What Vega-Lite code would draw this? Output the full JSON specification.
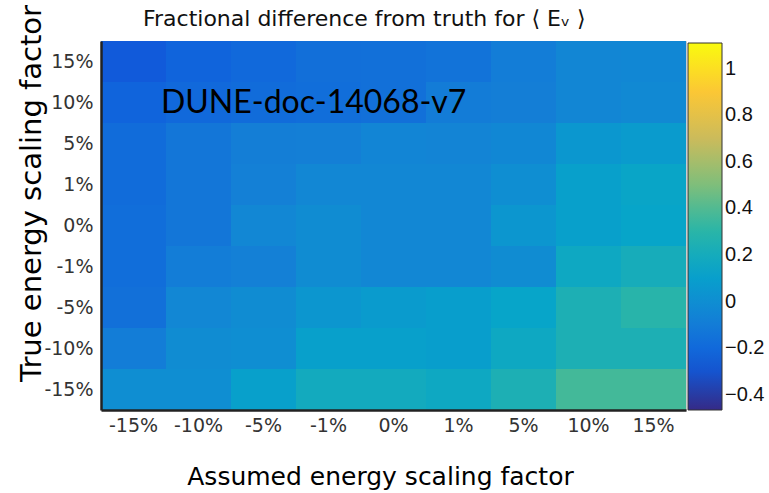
{
  "$schema": "https://vega.github.io/schema/vega-lite/v6.json",
  "width": 585,
  "height": 369,
  "autosize": {"type": "none"},
  "padding": {"left": 101, "top": 41, "right": 83, "bottom": 83},
  "background": "white",
  "title": {
    "text": "Fractional difference from truth for ⟨ Eᵥ ⟩",
    "font": "DejaVu Sans",
    "fontSize": 22,
    "fontWeight": "normal",
    "color": "#111",
    "anchor": "start",
    "frame": "group",
    "dx": 42,
    "dy": 34,
    "offset": 8
  },
  "config": {
    "view": {"stroke": "#ccc", "strokeWidth": 1},
    "axis": {
      "labelFont": "DejaVu Sans",
      "titleFont": "DejaVu Sans",
      "labelColor": "#333",
      "titleColor": "#000",
      "titleFontWeight": "normal",
      "ticks": false,
      "grid": false,
      "domainColor": "#222",
      "domainWidth": 2.5
    }
  },
  "datasets": {
    "cells": [
      {"assumed": "-15%", "truth": "15%", "v": -0.276}, {"assumed": "-10%", "truth": "15%", "v": -0.226}, {"assumed": "-5%", "truth": "15%", "v": -0.199}, {"assumed": "-1%", "truth": "15%", "v": -0.165}, {"assumed": "0%", "truth": "15%", "v": -0.161}, {"assumed": "1%", "truth": "15%", "v": -0.145}, {"assumed": "5%", "truth": "15%", "v": -0.093}, {"assumed": "10%", "truth": "15%", "v": -0.045}, {"assumed": "15%", "truth": "15%", "v": -0.035},
      {"assumed": "-15%", "truth": "10%", "v": -0.226}, {"assumed": "-10%", "truth": "10%", "v": -0.199}, {"assumed": "-5%", "truth": "10%", "v": -0.183}, {"assumed": "-1%", "truth": "10%", "v": -0.175}, {"assumed": "0%", "truth": "10%", "v": -0.161}, {"assumed": "1%", "truth": "10%", "v": -0.1}, {"assumed": "5%", "truth": "10%", "v": -0.085}, {"assumed": "10%", "truth": "10%", "v": -0.045}, {"assumed": "15%", "truth": "10%", "v": -0.025},
      {"assumed": "-15%", "truth": "5%", "v": -0.183}, {"assumed": "-10%", "truth": "5%", "v": -0.13}, {"assumed": "-5%", "truth": "5%", "v": -0.085}, {"assumed": "-1%", "truth": "5%", "v": -0.08}, {"assumed": "0%", "truth": "5%", "v": -0.05}, {"assumed": "1%", "truth": "5%", "v": -0.055}, {"assumed": "5%", "truth": "5%", "v": -0.035}, {"assumed": "10%", "truth": "5%", "v": 0.05}, {"assumed": "15%", "truth": "5%", "v": 0.075},
      {"assumed": "-15%", "truth": "1%", "v": -0.183}, {"assumed": "-10%", "truth": "1%", "v": -0.13}, {"assumed": "-5%", "truth": "1%", "v": -0.078}, {"assumed": "-1%", "truth": "1%", "v": -0.04}, {"assumed": "0%", "truth": "1%", "v": -0.04}, {"assumed": "1%", "truth": "1%", "v": -0.04}, {"assumed": "5%", "truth": "1%", "v": 0.0}, {"assumed": "10%", "truth": "1%", "v": 0.104}, {"assumed": "15%", "truth": "1%", "v": 0.14},
      {"assumed": "-15%", "truth": "0%", "v": -0.17}, {"assumed": "-10%", "truth": "0%", "v": -0.13}, {"assumed": "-5%", "truth": "0%", "v": -0.038}, {"assumed": "-1%", "truth": "0%", "v": -0.01}, {"assumed": "0%", "truth": "0%", "v": -0.038}, {"assumed": "1%", "truth": "0%", "v": -0.038}, {"assumed": "5%", "truth": "0%", "v": 0.047}, {"assumed": "10%", "truth": "0%", "v": 0.104}, {"assumed": "15%", "truth": "0%", "v": 0.132},
      {"assumed": "-15%", "truth": "-1%", "v": -0.17}, {"assumed": "-10%", "truth": "-1%", "v": -0.093}, {"assumed": "-5%", "truth": "-1%", "v": -0.078}, {"assumed": "-1%", "truth": "-1%", "v": -0.01}, {"assumed": "0%", "truth": "-1%", "v": -0.038}, {"assumed": "1%", "truth": "-1%", "v": -0.038}, {"assumed": "5%", "truth": "-1%", "v": -0.01}, {"assumed": "10%", "truth": "-1%", "v": 0.167}, {"assumed": "15%", "truth": "-1%", "v": 0.209},
      {"assumed": "-15%", "truth": "-5%", "v": -0.161}, {"assumed": "-10%", "truth": "-5%", "v": -0.038}, {"assumed": "-5%", "truth": "-5%", "v": -0.01}, {"assumed": "-1%", "truth": "-5%", "v": 0.047}, {"assumed": "0%", "truth": "-5%", "v": 0.075}, {"assumed": "1%", "truth": "-5%", "v": 0.093}, {"assumed": "5%", "truth": "-5%", "v": 0.132}, {"assumed": "10%", "truth": "-5%", "v": 0.239}, {"assumed": "15%", "truth": "-5%", "v": 0.291},
      {"assumed": "-15%", "truth": "-10%", "v": -0.093}, {"assumed": "-10%", "truth": "-10%", "v": -0.01}, {"assumed": "-5%", "truth": "-10%", "v": 0.001}, {"assumed": "-1%", "truth": "-10%", "v": 0.104}, {"assumed": "0%", "truth": "-10%", "v": 0.104}, {"assumed": "1%", "truth": "-10%", "v": 0.093}, {"assumed": "5%", "truth": "-10%", "v": 0.167}, {"assumed": "10%", "truth": "-10%", "v": 0.239}, {"assumed": "15%", "truth": "-10%", "v": 0.239},
      {"assumed": "-15%", "truth": "-15%", "v": 0.001}, {"assumed": "-10%", "truth": "-15%", "v": 0.001}, {"assumed": "-5%", "truth": "-15%", "v": 0.104}, {"assumed": "-1%", "truth": "-15%", "v": 0.19}, {"assumed": "0%", "truth": "-15%", "v": 0.19}, {"assumed": "1%", "truth": "-15%", "v": 0.167}, {"assumed": "5%", "truth": "-15%", "v": 0.239}, {"assumed": "10%", "truth": "-15%", "v": 0.37}, {"assumed": "15%", "truth": "-15%", "v": 0.37}
    ],
    "note": [{"assumed": "-10%", "truth": "10%", "label": "DUNE-doc-14068-v7"}]
  },
  "layer": [
    {
      "data": {"name": "cells"},
      "mark": {"type": "rect"},
      "encoding": {
        "x": {
          "field": "assumed", "type": "ordinal",
          "sort": ["-15%", "-10%", "-5%", "-1%", "0%", "1%", "5%", "10%", "15%"],
          "scale": {"paddingInner": 0, "paddingOuter": 0},
          "axis": {
            "title": "Assumed energy scaling factor",
            "labelAngle": 0, "labelFontSize": 19, "labelPadding": 6,
            "titleFontSize": 25, "titleX": 279, "titleY": 66, "titleBaseline": "middle", "titleAnchor": null
          }
        },
        "y": {
          "field": "truth", "type": "ordinal",
          "sort": ["15%", "10%", "5%", "1%", "0%", "-1%", "-5%", "-10%", "-15%"],
          "scale": {"paddingInner": 0, "paddingOuter": 0},
          "axis": {
            "title": "True energy scaling factor",
            "labelFontSize": 19, "labelPadding": 8,
            "titleFontSize": 29, "titleX": -70, "titleY": 152, "titleAngle": -90, "titleAlign": "center", "titleBaseline": "middle"
          }
        },
        "color": {
          "field": "v", "type": "quantitative",
          "scale": {
            "domain": [-0.465, -0.268125, -0.07125, 0.125625, 0.3225, 0.519375, 0.71625, 0.913125, 1.11],
            "range": ["#352a87", "#0f5cdd", "#1481d6", "#06a4ca", "#2eb7a4", "#87bf77", "#d1bb59", "#fec832", "#f9fb0e"],
            "interpolate": "rgb",
            "clamp": true
          },
          "legend": {
            "title": null,
            "orient": "none",
            "legendX": 587,
            "legendY": 2,
            "direction": "vertical",
            "gradientLength": 367,
            "gradientThickness": 34,
            "gradientStrokeColor": "#333",
            "gradientStrokeWidth": 1,
            "values": [-0.4, -0.2, 0, 0.2, 0.4, 0.6, 0.8, 1],
            "format": "~g",
            "labelFont": "Liberation Sans",
            "labelFontSize": 20,
            "labelColor": "#111",
            "labelOffset": 3,
            "labelOverlap": false
          }
        }
      }
    },
    {
      "data": {"name": "note"},
      "mark": {"type": "text", "font": "Lato", "fontSize": 32, "color": "#000", "align": "left", "baseline": "middle", "dx": -5},
      "encoding": {
        "x": {"field": "assumed", "type": "ordinal", "bandPosition": 0, "sort": ["-15%", "-10%", "-5%", "-1%", "0%", "1%", "5%", "10%", "15%"]},
        "y": {"field": "truth", "type": "ordinal", "sort": ["15%", "10%", "5%", "1%", "0%", "-1%", "-5%", "-10%", "-15%"]},
        "text": {"field": "label"}
      }
    }
  ]
}
